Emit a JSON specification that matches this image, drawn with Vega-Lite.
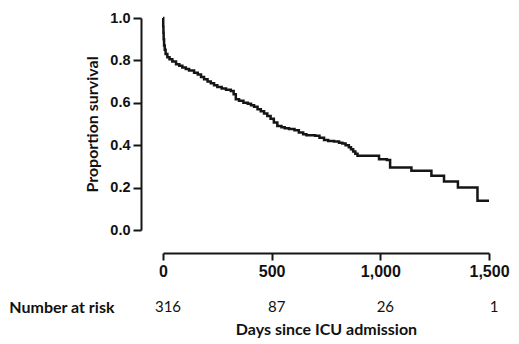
{
  "$schema": "https://vega.github.io/schema/vega-lite/v6.json",
  "padding": {"left": 8, "top": 10, "right": 5, "bottom": 5},
  "config": {"view": {"stroke": null}, "concat": {"spacing": 20}},
  "datasets": {
    "km": [
      {"day": 0, "survival": 1.0}, {"day": 1, "survival": 0.96}, {"day": 2, "survival": 0.93},
      {"day": 3, "survival": 0.9}, {"day": 5, "survival": 0.87}, {"day": 8, "survival": 0.85},
      {"day": 12, "survival": 0.83}, {"day": 20, "survival": 0.815}, {"day": 30, "survival": 0.805},
      {"day": 43, "survival": 0.795}, {"day": 60, "survival": 0.782}, {"day": 75, "survival": 0.775},
      {"day": 89, "survival": 0.766}, {"day": 105, "survival": 0.76}, {"day": 120, "survival": 0.752},
      {"day": 143, "survival": 0.742}, {"day": 160, "survival": 0.733}, {"day": 175, "survival": 0.722},
      {"day": 189, "survival": 0.711}, {"day": 205, "survival": 0.7}, {"day": 220, "survival": 0.692},
      {"day": 235, "survival": 0.683}, {"day": 250, "survival": 0.675}, {"day": 270, "survival": 0.668},
      {"day": 290, "survival": 0.662}, {"day": 312, "survival": 0.656}, {"day": 325, "survival": 0.64},
      {"day": 335, "survival": 0.617}, {"day": 350, "survival": 0.61}, {"day": 370, "survival": 0.6},
      {"day": 390, "survival": 0.595}, {"day": 405, "survival": 0.588}, {"day": 419, "survival": 0.581},
      {"day": 435, "survival": 0.57}, {"day": 450, "survival": 0.56}, {"day": 465, "survival": 0.55},
      {"day": 480, "survival": 0.538}, {"day": 495, "survival": 0.525}, {"day": 510, "survival": 0.507},
      {"day": 526, "survival": 0.491}, {"day": 545, "survival": 0.485}, {"day": 560, "survival": 0.48},
      {"day": 580, "survival": 0.476}, {"day": 605, "survival": 0.47}, {"day": 625, "survival": 0.46},
      {"day": 645, "survival": 0.452}, {"day": 660, "survival": 0.447}, {"day": 700, "survival": 0.444},
      {"day": 720, "survival": 0.435}, {"day": 741, "survival": 0.424}, {"day": 760, "survival": 0.42},
      {"day": 787, "survival": 0.417}, {"day": 810, "survival": 0.412}, {"day": 825, "survival": 0.408},
      {"day": 840, "survival": 0.4}, {"day": 855, "survival": 0.39}, {"day": 865, "survival": 0.381},
      {"day": 875, "survival": 0.37}, {"day": 885, "survival": 0.36}, {"day": 895, "survival": 0.35},
      {"day": 994, "survival": 0.334}, {"day": 1030, "survival": 0.33}, {"day": 1045, "survival": 0.295},
      {"day": 1143, "survival": 0.279}, {"day": 1235, "survival": 0.256}, {"day": 1293, "survival": 0.229},
      {"day": 1357, "survival": 0.201}, {"day": 1447, "survival": 0.138}, {"day": 1500, "survival": 0.138}
    ],
    "risk": [
      {"day": 0, "atRisk": 316, "label": "Number at risk"},
      {"day": 500, "atRisk": 87, "label": "Number at risk"},
      {"day": 1000, "atRisk": 26, "label": "Number at risk"},
      {"day": 1500, "atRisk": 1, "label": "Number at risk"}
    ]
  },
  "vconcat": [
    {
      "width": 326,
      "height": 212,
      "data": {"name": "km"},
      "mark": {"type": "line", "interpolate": "step-after", "color": "#151515", "strokeWidth": 2.5},
      "encoding": {
        "x": {
          "field": "day", "type": "quantitative",
          "scale": {"domain": [0, 1500], "nice": false, "zero": false},
          "axis": {
            "title": null, "values": [0, 500, 1000, 1500], "format": ",.0f", "grid": false,
            "offset": 23, "domainColor": "#151515", "domainWidth": 2, "tickColor": "#151515",
            "tickWidth": 2, "tickSize": 7, "labelFont": "Liberation Sans", "labelFontWeight": "bold",
            "labelFontSize": 16, "labelColor": "#111111", "labelPadding": 3, "labelFlush": false
          }
        },
        "y": {
          "field": "survival", "type": "quantitative",
          "scale": {"domain": [0, 1], "nice": false},
          "axis": {
            "title": "Proportion survival", "values": [0, 0.2, 0.4, 0.6, 0.8, 1.0], "format": ".1f",
            "grid": false, "offset": 22, "domainColor": "#151515", "domainWidth": 2,
            "tickColor": "#151515", "tickWidth": 2, "tickSize": 8, "labelFont": "Liberation Sans",
            "labelFontWeight": "bold", "labelFontSize": 14.5, "labelColor": "#111111", "labelPadding": 3,
            "labelFlush": false, "titleFont": "Lato", "titleFontWeight": "bold", "titleFontSize": 16,
            "titleColor": "#111111", "titlePadding": 9
          }
        }
      }
    },
    {
      "width": 326,
      "height": 14,
      "data": {"name": "risk"},
      "mark": {"type": "text", "font": "Lato", "fontSize": 15, "color": "#111111", "dx": 5},
      "encoding": {
        "x": {
          "field": "day", "type": "quantitative",
          "scale": {"domain": [0, 1500], "nice": false, "zero": false},
          "axis": {
            "title": "Days since ICU admission", "labels": false, "ticks": false, "domain": false,
            "grid": false, "titleFont": "Lato", "titleFontWeight": "bold", "titleFontSize": 16,
            "titleColor": "#111111", "titlePadding": 7
          }
        },
        "y": {
          "field": "label", "type": "nominal",
          "axis": {
            "title": null, "domain": false, "ticks": false, "grid": false, "labelFont": "Lato",
            "labelFontWeight": "bold", "labelFontSize": 16, "labelColor": "#111111", "labelPadding": 49
          }
        },
        "text": {"field": "atRisk", "type": "quantitative"}
      }
    }
  ]
}
